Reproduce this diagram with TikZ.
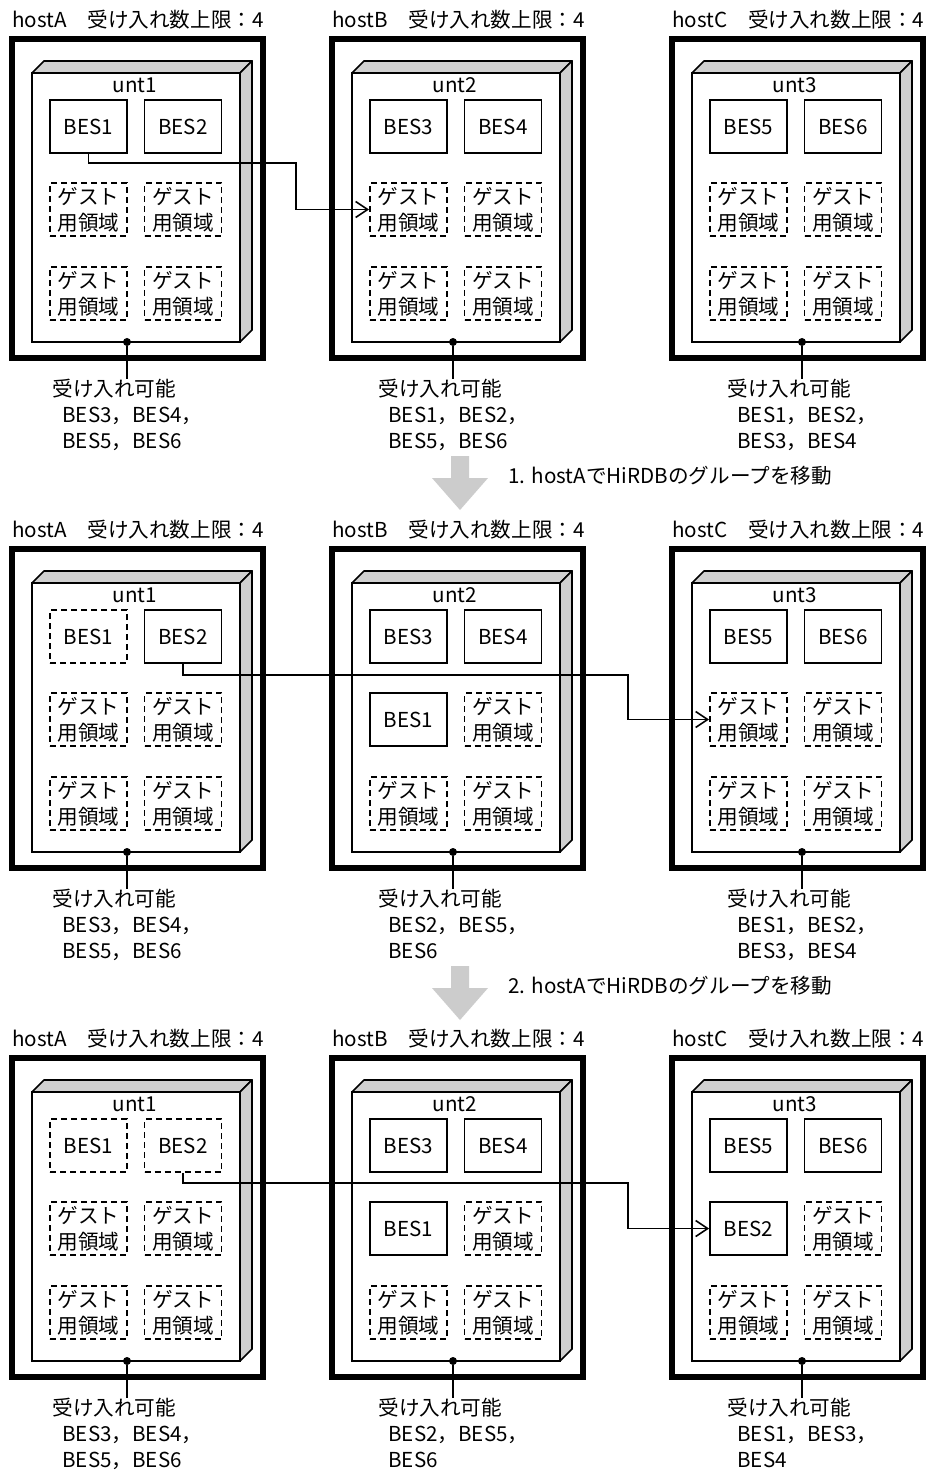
\documentclass[tikz,border=0pt]{standalone}
\usepackage{fontspec}
\setmainfont{Noto Sans CJK JP}
\usetikzlibrary{arrows.meta}
\definecolor{facegray}{RGB}{208,208,208}
\definecolor{arrowgray}{RGB}{204,204,204}
\newcommand*{\cxl}{88.5}
\newcommand*{\cxr}{183}
\newcommand*{\ryt}{126.5}
\newcommand*{\rym}{209.5}
\newcommand*{\ryb}{293.5}
\newcommand*{\gtext}{ゲスト\\用領域}
\newcommand*{\ind}{\hspace*{5pt}}
\tikzset{
  every node/.style={font=\fontsize{10.3pt}{13pt}\selectfont, inner sep=0pt},
  hostbox/.style={draw, line width=2.8pt, minimum width=125.5pt, minimum height=159.5pt},
  unitfront/.style={draw, fill=white, line width=0.85pt, minimum width=104pt, minimum height=134.5pt},
  unitface/.style={draw, fill=facegray, line width=0.85pt, line join=round},
  besbox/.style={draw, line width=0.9pt, minimum width=38.5pt, minimum height=26.5pt},
  besdash/.style={besbox, dash pattern=on 3pt off 2pt},
  guestbox/.style={besdash, align=center},
  pindot/.style={circle, fill, minimum size=4pt},
  conn/.style={line width=0.8pt},
  movearrow/.style={conn, -{Straight Barb[length=6pt,width=8pt,line width=0.8pt]}},
  hostlab/.style={anchor=west},
  acclab/.style={anchor=north west, align=left},
  steplab/.style={anchor=west},
  bigarrow/.style={fill=arrowgray, draw=none}
}
\newcommand{\hostframe}[4]{%
  \node[hostlab] (#1lab) at (12,20) {#2　受け入れ数上限：4};
  \node[hostbox] (#1host) at (137.5,198.5) {};
  \path[unitface] (32,73) -- (44,61) -- (252,61) -- (240,73) -- cycle;
  \path[unitface] (240,73) -- (252,61) -- (252,330) -- (240,342) -- cycle;
  \node[unitfront] (#1unit) at (136,207.5) {};
  \node (#1unt) at (135,85) {#3};
  \node[pindot] (#1dot) at (#4,342) {};
}
\newcommand{\acclabel}[3]{%
  \node[acclab] (#1acc) at (#2-75,379) {受け入れ可能\\#3};
  \draw[conn] (#1dot) -- (#1dot |- #1acc.north);
}
\begin{document}
\begin{tikzpicture}[x=0.5pt,y=-0.5pt]
\fill[white] (0,0) rectangle (933,1470);
\useasboundingbox (0,0) rectangle (933,1470);

% ================= Row 1 =================
\begin{scope}[shift={(0,0)}]
  \hostframe{a1}{hostA}{unt1}{127}
  \node[besbox] (a1c11) at (\cxl,\ryt) {BES1};
  \node[besbox] (a1c12) at (\cxr,\ryt) {BES2};
  \node[guestbox] (a1c21) at (\cxl,\rym) {\gtext};
  \node[guestbox] (a1c22) at (\cxr,\rym) {\gtext};
  \node[guestbox] (a1c31) at (\cxl,\ryb) {\gtext};
  \node[guestbox] (a1c32) at (\cxr,\ryb) {\gtext};
  \acclabel{a1}{127}{\ind BES3，BES4，\\\ind BES5，BES6}
\end{scope}
\begin{scope}[shift={(320,0)}]
  \hostframe{b1}{hostB}{unt2}{133}
  \node[besbox] (b1c11) at (\cxl,\ryt) {BES3};
  \node[besbox] (b1c12) at (\cxr,\ryt) {BES4};
  \node[guestbox] (b1c21) at (\cxl,\rym) {\gtext};
  \node[guestbox] (b1c22) at (\cxr,\rym) {\gtext};
  \node[guestbox] (b1c31) at (\cxl,\ryb) {\gtext};
  \node[guestbox] (b1c32) at (\cxr,\ryb) {\gtext};
  \acclabel{b1}{133}{\ind BES1，BES2，\\\ind BES5，BES6}
\end{scope}
\begin{scope}[shift={(660,0)}]
  \hostframe{c1}{hostC}{unt3}{142}
  \node[besbox] (c1c11) at (\cxl,\ryt) {BES5};
  \node[besbox] (c1c12) at (\cxr,\ryt) {BES6};
  \node[guestbox] (c1c21) at (\cxl,\rym) {\gtext};
  \node[guestbox] (c1c22) at (\cxr,\rym) {\gtext};
  \node[guestbox] (c1c31) at (\cxl,\ryb) {\gtext};
  \node[guestbox] (c1c32) at (\cxr,\ryb) {\gtext};
  \acclabel{c1}{142}{\ind BES1，BES2，\\\ind BES3，BES4}
\end{scope}

% step 1
\fill[bigarrow] (451,456) -- (469,456) -- (469,478) -- (488,478) -- (460,510) -- (432,478) -- (451,478) -- cycle;
\node[steplab] (step1) at (508,476) {1. hostAでHiRDBのグループを移動};

% ================= Row 2 =================
\begin{scope}[shift={(0,510)}]
  \hostframe{a2}{hostA}{unt1}{127}
  \node[besdash] (a2c11) at (\cxl,\ryt) {BES1};
  \node[besbox] (a2c12) at (\cxr,\ryt) {BES2};
  \node[guestbox] (a2c21) at (\cxl,\rym) {\gtext};
  \node[guestbox] (a2c22) at (\cxr,\rym) {\gtext};
  \node[guestbox] (a2c31) at (\cxl,\ryb) {\gtext};
  \node[guestbox] (a2c32) at (\cxr,\ryb) {\gtext};
  \acclabel{a2}{127}{\ind BES3，BES4，\\\ind BES5，BES6}
\end{scope}
\begin{scope}[shift={(320,510)}]
  \hostframe{b2}{hostB}{unt2}{133}
  \node[besbox] (b2c11) at (\cxl,\ryt) {BES3};
  \node[besbox] (b2c12) at (\cxr,\ryt) {BES4};
  \node[besbox] (b2c21) at (\cxl,\rym) {BES1};
  \node[guestbox] (b2c22) at (\cxr,\rym) {\gtext};
  \node[guestbox] (b2c31) at (\cxl,\ryb) {\gtext};
  \node[guestbox] (b2c32) at (\cxr,\ryb) {\gtext};
  \acclabel{b2}{133}{\ind BES2，BES5，\\\ind BES6}
\end{scope}
\begin{scope}[shift={(660,510)}]
  \hostframe{c2}{hostC}{unt3}{142}
  \node[besbox] (c2c11) at (\cxl,\ryt) {BES5};
  \node[besbox] (c2c12) at (\cxr,\ryt) {BES6};
  \node[guestbox] (c2c21) at (\cxl,\rym) {\gtext};
  \node[guestbox] (c2c22) at (\cxr,\rym) {\gtext};
  \node[guestbox] (c2c31) at (\cxl,\ryb) {\gtext};
  \node[guestbox] (c2c32) at (\cxr,\ryb) {\gtext};
  \acclabel{c2}{142}{\ind BES1，BES2，\\\ind BES3，BES4}
\end{scope}

% step 2
\fill[bigarrow] (451,966) -- (469,966) -- (469,988) -- (488,988) -- (460,1020) -- (432,988) -- (451,988) -- cycle;
\node[steplab] (step2) at (508,986) {2. hostAでHiRDBのグループを移動};

% ================= Row 3 =================
\begin{scope}[shift={(0,1019)}]
  \hostframe{a3}{hostA}{unt1}{127}
  \node[besdash] (a3c11) at (\cxl,\ryt) {BES1};
  \node[besdash] (a3c12) at (\cxr,\ryt) {BES2};
  \node[guestbox] (a3c21) at (\cxl,\rym) {\gtext};
  \node[guestbox] (a3c22) at (\cxr,\rym) {\gtext};
  \node[guestbox] (a3c31) at (\cxl,\ryb) {\gtext};
  \node[guestbox] (a3c32) at (\cxr,\ryb) {\gtext};
  \acclabel{a3}{127}{\ind BES3，BES4，\\\ind BES5，BES6}
\end{scope}
\begin{scope}[shift={(320,1019)}]
  \hostframe{b3}{hostB}{unt2}{133}
  \node[besbox] (b3c11) at (\cxl,\ryt) {BES3};
  \node[besbox] (b3c12) at (\cxr,\ryt) {BES4};
  \node[besbox] (b3c21) at (\cxl,\rym) {BES1};
  \node[guestbox] (b3c22) at (\cxr,\rym) {\gtext};
  \node[guestbox] (b3c31) at (\cxl,\ryb) {\gtext};
  \node[guestbox] (b3c32) at (\cxr,\ryb) {\gtext};
  \acclabel{b3}{133}{\ind BES2，BES5，\\\ind BES6}
\end{scope}
\begin{scope}[shift={(660,1019)}]
  \hostframe{c3}{hostC}{unt3}{142}
  \node[besbox] (c3c11) at (\cxl,\ryt) {BES5};
  \node[besbox] (c3c12) at (\cxr,\ryt) {BES6};
  \node[besbox] (c3c21) at (\cxl,\rym) {BES2};
  \node[guestbox] (c3c22) at (\cxr,\rym) {\gtext};
  \node[guestbox] (c3c31) at (\cxl,\ryb) {\gtext};
  \node[guestbox] (c3c32) at (\cxr,\ryb) {\gtext};
  \acclabel{c3}{142}{\ind BES1，BES3，\\\ind BES4}
\end{scope}

% ================= move connectors =================
\coordinate (bend1) at (296,163);
\coordinate (bend2) at (628,675);
\coordinate (bend3) at (628,1183);
\draw[movearrow] (a1c11.south) |- (bend1) |- (b1c21.west);
\draw[movearrow] (a2c12.south) |- (bend2) |- (c2c21.west);
\draw[movearrow] (a3c12.south) |- (bend3) |- (c3c21.west);
\end{tikzpicture}
\end{document}
